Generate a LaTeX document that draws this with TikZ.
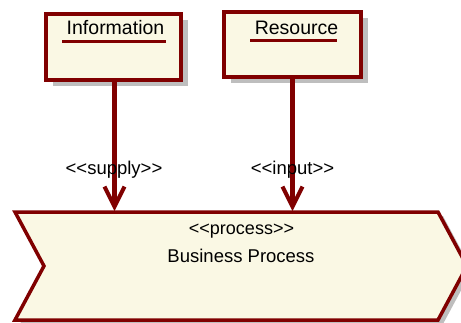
\documentclass[tikz,border=0pt]{standalone}
\usepackage{fontspec}
\setmainfont{Liberation Sans}
\usetikzlibrary{arrows.meta,shadows}
\definecolor{umlred}{RGB}{128,0,0}
\definecolor{umlfill}{RGB}{250,248,228}
\definecolor{umlshadow}{RGB}{190,190,190}
\newcommand{\guil}{<\kern0pt<}
\newcommand{\guir}{>\kern0pt>}
\begin{document}
\begin{tikzpicture}[x=1pt,y=-1pt,
  classbox/.style={draw=umlred, fill=umlfill, line width=3.5pt, rectangle, inner sep=0pt,
    general shadow={fill=umlshadow, shadow xshift=7pt, shadow yshift=-6pt}},
  lbl/.style={font=\fontsize{19.5}{21}\selectfont, inner sep=0pt, anchor=base},
  flow/.style={draw=umlred, line width=4.5pt, -{Straight Barb[length=20pt,width=20pt,line width=4pt]}},
  uline/.style={draw=umlred, line width=3pt},
  procline/.style={draw=umlred, fill=umlfill, line width=3.5pt, line join=miter}]
\useasboundingbox (0,0) rectangle (461,322);
% class boxes
\node[classbox, minimum width=135pt, minimum height=66pt] (info) at (113.5,47) {};
\node[classbox, minimum width=137pt, minimum height=65pt] (res) at (292.5,44.5) {};
\node[lbl] (infot) at (115.5,34) {Information};
\draw[uline] (62,41.5) -- (166,41.5);
\node[lbl] (rest) at (296.5,34) {Resource};
\draw[uline] (250,40) -- (337,40);
% process shape
\coordinate (ptl) at (15,212);
\coordinate (pnotch) at (44,266);
\coordinate (pbl) at (15,320);
\coordinate (ptr) at (438,212);
\coordinate (ptip) at (467,266);
\coordinate (pbr) at (438,320);
\fill[umlshadow] (443,216) -- (472,270) -- (443,324) -- (20,324) -- (49,270) -- (20,216) -- cycle;
\draw[procline] (ptl) -- (ptr) -- (ptip) -- (pbr) -- (pbl) -- (pnotch) -- cycle;
\node[lbl, font=\fontsize{18}{20}\selectfont] (pst) at (241.5,234) {\guil process\guir};
\node[lbl, font=\fontsize{18.5}{20}\selectfont] (pname) at (241,262.5) {Business Process};
% connectors
\coordinate (supplyend) at (114.5,211);
\coordinate (inputend) at (292.5,211);
\draw[flow] (info.south -| supplyend) -- (supplyend);
\draw[flow] (res.south -| inputend) -- (inputend);
\node[lbl, font=\fontsize{18.5}{20}\selectfont] (supplyl) at (114,174) {\guil supply\guir};
\node[lbl, font=\fontsize{18.5}{20}\selectfont] (inputl) at (292.5,174) {\guil input\guir};
\end{tikzpicture}
\end{document}
